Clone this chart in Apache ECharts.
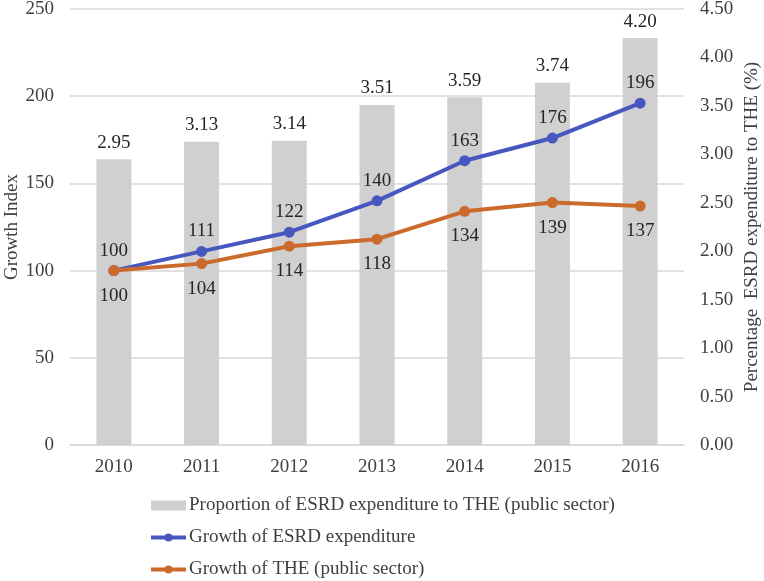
<!DOCTYPE html>
<html><head><meta charset="utf-8">
<script src="https://cdn.jsdelivr.net/npm/echarts@6/dist/echarts.min.js"></script>
<style>html,body{margin:0;padding:0;background:#fff}#c{width:764px;height:581px}</style>
</head><body><div id="c"></div>
<script>
const categories = ['2010','2011','2012','2013','2014','2015','2016'];
const proportion = [2.95, 3.13, 3.14, 3.51, 3.59, 3.74, 4.20];
const growthESRD = [100, 111, 122, 140, 163, 176, 196];
const growthTHE = [100, 104, 114, 118, 134, 139, 137];

const FONT = 'Liberation Serif';
const TXT = '#404040';
const FS = 19;
const chart = echarts.init(document.getElementById('c'));
chart.setOption({
  animation: false,
  textStyle: {fontFamily: FONT},
  grid: {left: 70, right: 80, top: 9, bottom: 136, containLabel: false, outerBoundsMode: 'none'},
  legend: {
    orient: 'vertical', left: 149, top: 496, itemGap: 13, padding: 0,
    itemWidth: 35, itemHeight: 10,
    lineStyle: {width: 4},
    textStyle: {fontFamily: FONT, fontSize: FS, color: TXT, padding: [0,0,0,-2]},
    data: [
      {name: 'Proportion of ESRD expenditure to THE (public sector)', icon: 'rect'},
      {name: 'Growth of ESRD expenditure'},
      {name: 'Growth of THE (public sector)'}
    ]
  },
  xAxis: {
    type: 'category', data: categories,
    axisLine: {lineStyle: {color: '#d9d9d9', width: 1.5}},
    axisTick: {show: false},
    axisLabel: {fontFamily: FONT, fontSize: FS, color: TXT, margin: 13}
  },
  yAxis: [
    {
      type: 'value', min: 0, max: 250, interval: 50,
      name: 'Growth Index', nameLocation: 'middle', nameGap: 48, nameRotate: 90, nameMoveOverlap: false,
      nameTextStyle: {fontFamily: FONT, fontSize: FS, color: TXT},
      axisLine: {show: false}, axisTick: {show: false},
      axisLabel: {fontFamily: FONT, fontSize: FS, color: TXT, margin: 16},
      splitLine: {lineStyle: {color: '#d9d9d9', width: 1.5}}
    },
    {
      type: 'value', min: 0, max: 4.5, interval: 0.5, position: 'right',
      name: 'Percentage  ESRD expenditure to THE (%)', nameLocation: 'middle', nameGap: 59, nameRotate: 90, nameMoveOverlap: false,
      nameTextStyle: {fontFamily: FONT, fontSize: FS, color: TXT},
      axisLine: {show: false}, axisTick: {show: false},
      axisLabel: {fontFamily: FONT, fontSize: FS, color: TXT, margin: 16, formatter: v => v.toFixed(2)},
      splitLine: {show: false}
    }
  ],
  series: [
    {
      name: 'Proportion of ESRD expenditure to THE (public sector)', type: 'bar', yAxisIndex: 1,
      data: proportion, barWidth: 35,
      itemStyle: {color: '#d0d0d0'},
      label: {show: true, position: 'top', distance: 7, fontFamily: FONT, fontSize: FS, color: '#262626', formatter: p => p.value.toFixed(2)}
    },
    {
      name: 'Growth of ESRD expenditure', type: 'line', yAxisIndex: 0, data: growthESRD,
      symbol: 'circle', symbolSize: 11,
      lineStyle: {color: '#4856c0', width: 4}, itemStyle: {color: '#4856c0'},
      label: {show: true, position: 'top', distance: 5, fontFamily: FONT, fontSize: FS, color: '#262626'},
      z: 3
    },
    {
      name: 'Growth of THE (public sector)', type: 'line', yAxisIndex: 0, data: growthTHE,
      symbol: 'circle', symbolSize: 11,
      lineStyle: {color: '#cc6a2c', width: 4}, itemStyle: {color: '#cc6a2c'},
      label: {show: true, position: 'bottom', distance: 10, fontFamily: FONT, fontSize: FS, color: '#262626'},
      z: 4
    }
  ]
});
</script></body></html>
